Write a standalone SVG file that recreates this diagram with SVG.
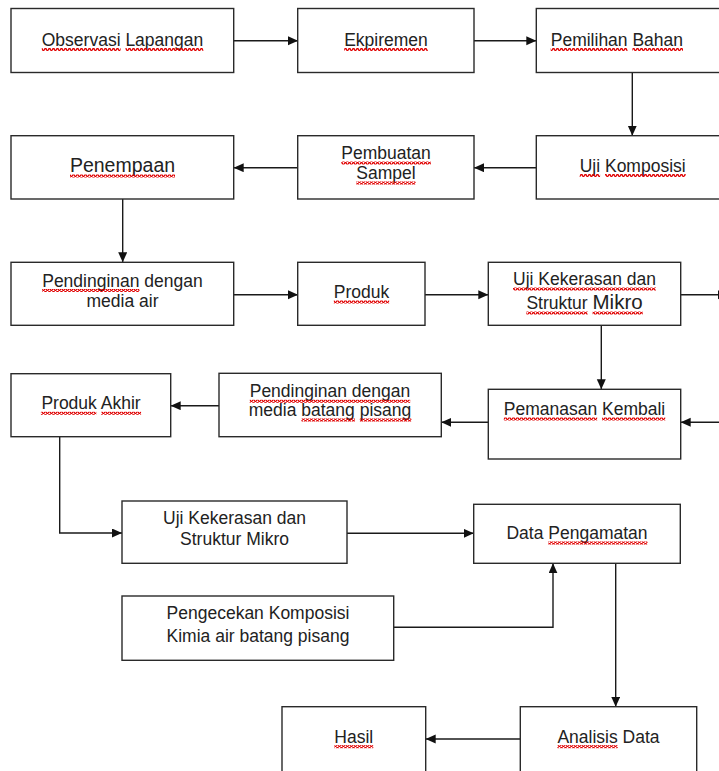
<svg xmlns="http://www.w3.org/2000/svg" width="719" height="771" viewBox="0 0 719 771">
<style>
.box{fill:#fff;stroke:#2a2a2a;stroke-width:1.4}
.t{font-family:"Liberation Sans",Arial,sans-serif;font-size:17.5px;fill:#222;text-anchor:middle}
.c{fill:none;stroke:#1a1a1a;stroke-width:1.4}
.sq{fill:url(#sq)}
</style>
<defs>
<pattern id="sq" patternUnits="userSpaceOnUse" width="4" height="3">
<polyline points="0,2.4 1,0.6 2,0.6 3,2.4 4,2.4" fill="none" stroke="#e00000" stroke-width="1.3"/>
</pattern>
<marker id="ah" markerUnits="userSpaceOnUse" markerWidth="11" markerHeight="10" refX="10" refY="4.5" orient="auto">
<path d="M0,0 L10,4.5 L0,9 Z" fill="#111"/>
</marker>
</defs>
<rect width="719" height="771" fill="#fff"/>
<g id="connectors">
<path class="c" d="M233.7,40.7 H298" marker-end="url(#ah)"/>
<path class="c" d="M474,40.7 H536.3" marker-end="url(#ah)"/>
<path class="c" d="M632.3,72.7 V135.7" marker-end="url(#ah)"/>
<path class="c" d="M536.3,167.7 H474" marker-end="url(#ah)"/>
<path class="c" d="M297.7,167.7 H233.7" marker-end="url(#ah)"/>
<path class="c" d="M122.7,199 V262.3" marker-end="url(#ah)"/>
<path class="c" d="M233.7,294.7 H298" marker-end="url(#ah)"/>
<path class="c" d="M425,294.7 H488.3" marker-end="url(#ah)"/>
<path class="c" d="M680.7,294.7 H728" marker-end="url(#ah)"/>
<path class="c" d="M735,422.3 H680.7" marker-end="url(#ah)"/>
<path class="c" d="M601.3,325.3 V389.3" marker-end="url(#ah)"/>
<path class="c" d="M488.3,422.3 H441.3" marker-end="url(#ah)"/>
<path class="c" d="M219,405.7 H170.7" marker-end="url(#ah)"/>
<path class="c" d="M59.7,436.7 V533 H122" marker-end="url(#ah)"/>
<path class="c" d="M347,533.3 H473.7" marker-end="url(#ah)"/>
<path class="c" d="M393.7,627.3 H553 V563.3" marker-end="url(#ah)"/>
<path class="c" d="M615.7,563.3 V706.7" marker-end="url(#ah)"/>
<path class="c" d="M520.3,739 H425.7" marker-end="url(#ah)"/>
</g>
<g id="observasi">
<rect class="box" x="11" y="8.5" width="222.7" height="64"/>
<text class="t" x="122.5" y="45.5">Observasi Lapangan</text>
<rect class="sq" x="41.8" y="48" width="78.8" height="3"/>
<rect class="sq" x="125.5" y="48" width="77.8" height="3"/>
</g>
<g id="ekpiremen">
<rect class="box" x="297.7" y="8.5" width="176.3" height="64"/>
<text class="t" x="386" y="45.5">Ekpiremen</text>
<rect class="sq" x="344.2" y="48" width="83.6" height="3"/>
</g>
<g id="pemilihan">
<rect class="box" x="536.3" y="8.5" width="200" height="64"/>
<text class="t" x="616.9" y="45.5">Pemilihan Bahan</text>
<rect class="sq" x="550.7" y="48" width="76.8" height="3"/>
<rect class="sq" x="632.4" y="48" width="50.6" height="3"/>
</g>
<g id="uji-komposisi">
<rect class="box" x="536.3" y="135.7" width="200" height="63.3"/>
<text class="t" x="632.7" y="171.5">Uji Komposisi</text>
<rect class="sq" x="579.7" y="174" width="20.4" height="3"/>
<rect class="sq" x="605" y="174" width="80.7" height="3"/>
</g>
<g id="pembuatan">
<rect class="box" x="297.7" y="135.7" width="176.3" height="63.3"/>
<text class="t" x="386" y="159">Pembuatan</text>
<text class="t" x="386" y="179">Sampel</text>
<rect class="sq" x="341.3" y="161.5" width="89.5" height="3"/>
<rect class="sq" x="356.3" y="181.5" width="59.3" height="3"/>
</g>
<g id="penempaan">
<rect class="box" x="11" y="135.7" width="222.7" height="63.3"/>
<text class="t" x="122.5" y="171.5" style="font-size:19.5px">Penempaan</text>
<rect class="sq" x="70" y="174.5" width="105" height="3"/>
</g>
<g id="pendinginan-air">
<rect class="box" x="11" y="262.3" width="222.7" height="63"/>
<text class="t" x="122.5" y="286.5">Pendinginan dengan</text>
<text class="t" x="122.5" y="307">media air</text>
<rect class="sq" x="42.2" y="289" width="97.3" height="3"/>
</g>
<g id="produk">
<rect class="box" x="297.7" y="262.3" width="127.3" height="63"/>
<text class="t" x="361.5" y="298">Produk</text>
<rect class="sq" x="333.8" y="300.5" width="55.4" height="3"/>
</g>
<g id="uji-kekerasan-1">
<rect class="box" x="488.3" y="262.3" width="192.4" height="63"/>
<text class="t" x="584.5" y="285">Uji Kekerasan dan</text>
<text class="t" x="526.4" y="309" style="text-anchor:start">Struktur <tspan style="font-size:20.5px">Mikro</tspan></text>
<rect class="sq" x="513" y="287.5" width="143" height="3"/>
<rect class="sq" x="526.4" y="311.5" width="61.3" height="3"/>
<rect class="sq" x="592.6" y="311.5" width="50.1" height="3"/>
</g>
<g id="pemanasan">
<rect class="box" x="488.3" y="389.3" width="192.4" height="69.7"/>
<text class="t" x="584.5" y="415">Pemanasan Kembali</text>
<rect class="sq" x="503.8" y="417.5" width="93.4" height="3"/>
<rect class="sq" x="602.1" y="417.5" width="63.2" height="3"/>
</g>
<g id="pendinginan-batang">
<rect class="box" x="219" y="373.3" width="222.3" height="63.4"/>
<text class="t" x="330" y="397.3">Pendinginan dengan</text>
<text class="t" x="330" y="416">media batang pisang</text>
<rect class="sq" x="249.7" y="399.8" width="160.5" height="3"/>
<rect class="sq" x="301.4" y="418.5" width="53.5" height="3"/>
<rect class="sq" x="359.8" y="418.5" width="51.6" height="3"/>
</g>
<g id="produk-akhir">
<rect class="box" x="11" y="373.7" width="159.7" height="63"/>
<text class="t" x="91" y="409.3">Produk Akhir</text>
<rect class="sq" x="40.9" y="411.8" width="55.4" height="3"/>
<rect class="sq" x="101.2" y="411.8" width="39.9" height="3"/>
</g>
<g id="uji-kekerasan-2">
<rect class="box" x="122" y="501" width="225" height="62.3"/>
<text class="t" x="234.5" y="524.3">Uji Kekerasan dan</text>
<text class="t" x="234.5" y="545">Struktur Mikro</text>
</g>
<g id="data-pengamatan">
<rect class="box" x="473.7" y="504.3" width="206.6" height="59"/>
<text class="t" x="577" y="539">Data Pengamatan</text>
<rect class="sq" x="548.3" y="541.5" width="99.2" height="3"/>
</g>
<g id="pengecekan">
<rect class="box" x="122" y="596" width="271.7" height="64.3"/>
<text class="t" x="258" y="619.3">Pengecekan Komposisi</text>
<text class="t" x="258" y="641.7">Kimia air batang pisang</text>
</g>
<g id="hasil">
<rect class="box" x="282" y="706.7" width="143.7" height="80"/>
<text class="t" x="353.8" y="742.7">Hasil</text>
<rect class="sq" x="334.4" y="745.2" width="38.9" height="3"/>
</g>
<g id="analisis">
<rect class="box" x="520.3" y="706.7" width="176.4" height="80"/>
<text class="t" x="608.5" y="742.7">Analisis Data</text>
<rect class="sq" x="557.4" y="745.2" width="60.3" height="3"/>
</g>
</svg>
